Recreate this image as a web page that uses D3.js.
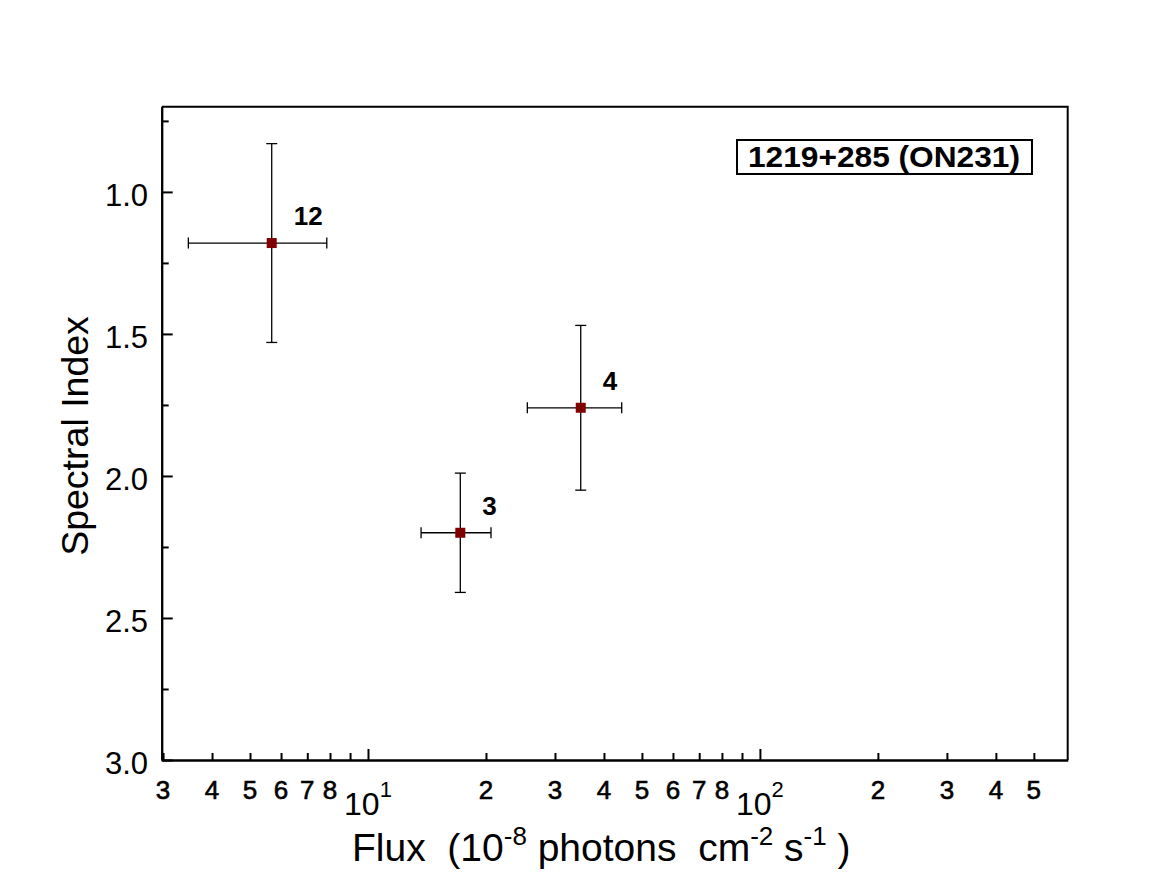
<!DOCTYPE html>
<html>
<head>
<meta charset="utf-8">
<script src="https://cdn.jsdelivr.net/npm/d3@7"></script>
<style>
  body { margin: 0; background: #fff; }
  svg { display: block; }
  text { font-family: "Liberation Sans", Arial, Helvetica, sans-serif; fill: #000; }
</style>
</head>
<body>
<div id="chart"></div>
<script>
// flux points (10^-8 ph cm^-2 s^-1) and spectral index, with error ranges
const fluxValues = [5.68, 17.2, 34.9];
const fluxLow = [3.48, 13.66, 25.5];
const fluxHigh = [7.85, 20.6, 44.4];
const indexValues = [1.18, 2.20, 1.76];
const indexLow = [0.83, 1.99, 1.47];
const indexHigh = [1.53, 2.41, 2.05];
const pointLabels = ["12", "3", "4"];

const xMajorTicks = [10, 100];
const xMajorExponents = ["1", "2"];
const xMinorTicks = [3, 4, 5, 6, 7, 8, 9, 20, 30, 40, 50, 60, 70, 80, 90, 200, 300, 400, 500];
const xMinorLabelled = [3, 4, 5, 6, 7, 8, 20, 30, 40, 50, 60, 70, 80, 200, 300, 400, 500];
const yMajorTicks = [1.0, 1.5, 2.0, 2.5, 3.0];
const yMinorTicks = [0.75, 1.25, 1.75, 2.25, 2.75];

const sourceName = "1219+285 (ON231)";

const width = 1158;
const height = 894;
const plotLeft = 161.7, plotRight = 1067.7, plotTop = 106.7, plotBottom = 760;

const svg = d3.select("#chart")
  .append("svg")
    .attr("width", width)
    .attr("height", height);

const x = d3.scaleLog()
    .domain([2.976, 610])
    .range([plotLeft, plotRight]);

const y = d3.scaleLinear()
    .domain([0.7, 3.0])
    .range([plotTop, plotBottom]);

// frame (top + right)
svg.append("path")
    .attr("d", `M${plotLeft},${plotTop}H${plotRight}V${plotBottom}`)
    .attr("fill", "none")
    .attr("stroke", "#000")
    .attr("stroke-width", 2);

// x axis: ticks point inward (up)
svg.append("g")
    .attr("transform", `translate(0,${plotBottom})`)
    .call(d3.axisBottom(x).tickValues(xMajorTicks).tickSize(-11).tickSizeOuter(0).tickFormat(""));
svg.append("g")
    .attr("transform", `translate(0,${plotBottom})`)
    .call(d3.axisBottom(x).tickValues(xMinorTicks).tickSize(-7).tickSizeOuter(0).tickFormat(""));

// y axis: ticks point inward (right)
svg.append("g")
    .attr("transform", `translate(${plotLeft},0)`)
    .call(d3.axisLeft(y).tickValues(yMajorTicks).tickSize(-11).tickSizeOuter(0).tickFormat(""));
svg.append("g")
    .attr("transform", `translate(${plotLeft},0)`)
    .call(d3.axisLeft(y).tickValues(yMinorTicks).tickSize(-7).tickSizeOuter(0).tickFormat(""));

svg.selectAll(".domain").attr("stroke", "#000").attr("stroke-width", 2);
svg.selectAll(".tick line").attr("stroke", "#000").attr("stroke-width", 2);

// x tick labels
svg.selectAll(".xlab-minor")
  .data(xMinorLabelled)
  .join("text")
    .attr("class", "xlab-minor")
    .attr("x", d => x(d))
    .attr("y", 799)
    .attr("text-anchor", "middle")
    .attr("font-size", 26)
    .attr("stroke", "#000")
    .attr("stroke-width", 0.6)
    .text(d => String(d).charAt(0));

const decade = svg.selectAll(".xlab-major")
  .data(xMajorTicks)
  .join("text")
    .attr("class", "xlab-major")
    .attr("x", d => x(d))
    .attr("y", 815)
    .attr("text-anchor", "middle")
    .attr("font-size", 32);
decade.append("tspan").text("10");
decade.append("tspan")
    .attr("font-size", 22)
    .attr("dy", -18)
    .text((d, i) => xMajorExponents[i]);

// y tick labels
svg.selectAll(".ylab")
  .data(yMajorTicks)
  .join("text")
    .attr("class", "ylab")
    .attr("x", 148)
    .attr("y", d => y(d) + 14)
    .attr("text-anchor", "end")
    .attr("font-size", 31)
    .text(d => d.toFixed(1));

// axis titles
const xTitle = svg.append("text")
    .attr("x", 352)
    .attr("y", 861)
    .attr("font-size", 39)
    .style("white-space", "pre");
xTitle.append("tspan").text("Flux  (10");
xTitle.append("tspan").attr("font-size", 26).attr("dy", -16).text("-8");
xTitle.append("tspan").attr("dy", 16).text(" photons  cm");
xTitle.append("tspan").attr("font-size", 26).attr("dy", -16).text("-2");
xTitle.append("tspan").attr("dy", 16).text(" s");
xTitle.append("tspan").attr("font-size", 26).attr("dy", -16).text("-1");
xTitle.append("tspan").attr("dy", 16).text(" )");

svg.append("text")
    .attr("transform", "translate(88,436) rotate(-90)")
    .attr("text-anchor", "middle")
    .attr("font-size", 37.5)
    .text("Spectral Index");

// error bars
const pts = fluxValues.map((f, i) => ({
  f, fl: fluxLow[i], fh: fluxHigh[i],
  s: indexValues[i], sl: indexLow[i], sh: indexHigh[i],
  label: pointLabels[i]
}));
const cap = 5.5;
const eb = svg.append("g").attr("stroke", "#000").attr("stroke-width", 1.3);

eb.selectAll(".hbar").data(pts).join("line")
    .attr("class", "hbar")
    .attr("x1", d => x(d.fl)).attr("x2", d => x(d.fh))
    .attr("y1", d => y(d.s)).attr("y2", d => y(d.s));
eb.selectAll(".vbar").data(pts).join("line")
    .attr("class", "vbar")
    .attr("x1", d => x(d.f)).attr("x2", d => x(d.f))
    .attr("y1", d => y(d.sl)).attr("y2", d => y(d.sh));
eb.selectAll(".capl").data(pts).join("line")
    .attr("class", "capl")
    .attr("x1", d => x(d.fl)).attr("x2", d => x(d.fl))
    .attr("y1", d => y(d.s) - cap).attr("y2", d => y(d.s) + cap);
eb.selectAll(".capr").data(pts).join("line")
    .attr("class", "capr")
    .attr("x1", d => x(d.fh)).attr("x2", d => x(d.fh))
    .attr("y1", d => y(d.s) - cap).attr("y2", d => y(d.s) + cap);
eb.selectAll(".capt").data(pts).join("line")
    .attr("class", "capt")
    .attr("x1", d => x(d.f) - cap).attr("x2", d => x(d.f) + cap)
    .attr("y1", d => y(d.sl)).attr("y2", d => y(d.sl));
eb.selectAll(".capb").data(pts).join("line")
    .attr("class", "capb")
    .attr("x1", d => x(d.f) - cap).attr("x2", d => x(d.f) + cap)
    .attr("y1", d => y(d.sh)).attr("y2", d => y(d.sh));

// markers
svg.selectAll(".marker").data(pts).join("rect")
    .attr("class", "marker")
    .attr("x", d => x(d.f) - 5)
    .attr("y", d => y(d.s) - 5)
    .attr("width", 10)
    .attr("height", 10)
    .attr("fill", "#800000");

// point labels
svg.selectAll(".plabel").data(pts).join("text")
    .attr("class", "plabel")
    .attr("x", d => x(d.f) + 22)
    .attr("y", d => y(d.s) - 18)
    .attr("font-size", 26)
    .attr("font-weight", "bold")
    .text(d => d.label);

// source name box
svg.append("rect")
    .attr("x", 737)
    .attr("y", 140)
    .attr("width", 295)
    .attr("height", 34)
    .attr("fill", "#fff")
    .attr("stroke", "#000")
    .attr("stroke-width", 2);
svg.append("text")
    .attr("x", 748)
    .attr("y", 167)
    .attr("font-size", 30)
    .attr("font-weight", "bold")
    .attr("textLength", 272)
    .attr("lengthAdjust", "spacingAndGlyphs")
    .text(sourceName);
</script>
</body>
</html>
